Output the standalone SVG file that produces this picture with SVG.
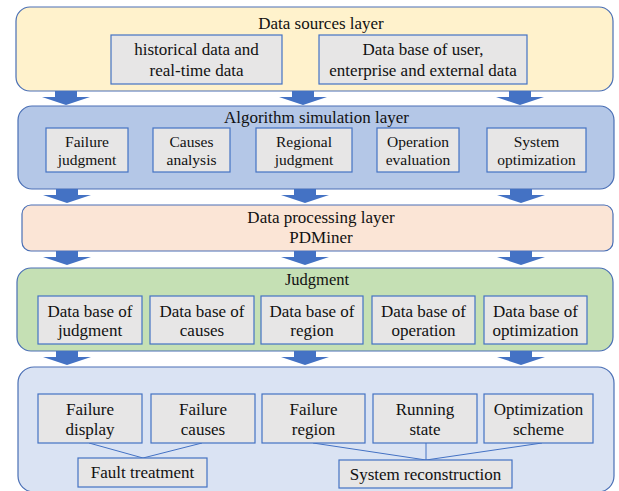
<svg xmlns="http://www.w3.org/2000/svg" width="619" height="491" viewBox="0 0 619 491" font-family="'Liberation Serif', 'Times New Roman', serif">
  <defs>
    <style>
      .layer { stroke: #4a6fb5; stroke-width: 1.2; }
      .box { fill: #e7e6e6; stroke: #4472c4; stroke-width: 1.2; }
      text { font-family: 'Liberation Serif', 'Times New Roman', serif; fill: #111; text-anchor: middle; }
      .t17 { font-size: 17px; }
      .t15 { font-size: 15.5px; }
      .arrow { fill: #4472c4; }
      .link { stroke: #4472c4; stroke-width: 1; fill: none; }
    </style>
    <path id="blk" d="M -11 0 H 11 V 6 H 24 L 0 14 L -24 6 H -11 Z"/>
  </defs>
  <rect width="619" height="491" fill="#ffffff"/>

  <!-- Data sources layer -->
  <g id="layer-sources">
    <rect class="layer" x="16" y="7" width="597" height="84" rx="14" fill="#fff2cc"/>
    <text class="t17" x="321" y="29">Data sources layer</text>
    <g id="historical-data">
      <rect class="box" x="111" y="35" width="171" height="49"/>
      <text class="t17" x="196.5" y="55">historical data and</text>
      <text class="t17" x="196.5" y="76">real-time data</text>
    </g>
    <g id="user-enterprise-data">
      <rect class="box" x="319" y="35" width="208" height="49"/>
      <text class="t17" x="423" y="55">Data base of user,</text>
      <text class="t17" x="423" y="76">enterprise and external data</text>
    </g>
  </g>

  <!-- Algorithm simulation layer -->
  <g id="layer-algorithm">
    <rect class="layer" x="18" y="106" width="596" height="83" rx="14" fill="#b4c7e7"/>
    <text class="t17" x="316.5" y="123">Algorithm simulation layer</text>
    <g id="failure-judgment">
      <rect class="box" x="46" y="128" width="82" height="44"/>
      <text class="t15" x="87" y="147">Failure</text>
      <text class="t15" x="87" y="165">judgment</text>
    </g>
    <g id="causes-analysis">
      <rect class="box" x="153" y="128" width="77" height="44"/>
      <text class="t15" x="191.5" y="147">Causes</text>
      <text class="t15" x="191.5" y="165">analysis</text>
    </g>
    <g id="regional-judgment">
      <rect class="box" x="256" y="128" width="96" height="44"/>
      <text class="t15" x="304" y="147">Regional</text>
      <text class="t15" x="304" y="165">judgment</text>
    </g>
    <g id="operation-evaluation">
      <rect class="box" x="377" y="128" width="82" height="44"/>
      <text class="t15" x="418" y="147">Operation</text>
      <text class="t15" x="418" y="165">evaluation</text>
    </g>
    <g id="system-optimization">
      <rect class="box" x="487" y="128" width="99" height="44"/>
      <text class="t15" x="536.5" y="147">System</text>
      <text class="t15" x="536.5" y="165">optimization</text>
    </g>
  </g>

  <!-- Data processing layer -->
  <g id="layer-processing">
    <rect class="layer" x="22" y="205" width="591" height="46" rx="9" fill="#fbe5d6"/>
    <text class="t17" x="321" y="223">Data processing layer</text>
    <text class="t17" x="321" y="243">PDMiner</text>
  </g>

  <!-- Judgment layer -->
  <g id="layer-judgment">
    <rect class="layer" x="17" y="268" width="596" height="83" rx="14" fill="#c5e0b4"/>
    <text font-size="16.5" x="317" y="285">Judgment</text>
    <g id="db-judgment">
      <rect class="box" x="38" y="296" width="104" height="48"/>
      <text class="t17" x="90" y="317">Data base of</text>
      <text class="t17" x="90" y="336">judgment</text>
    </g>
    <g id="db-causes">
      <rect class="box" x="150" y="296" width="104" height="48"/>
      <text class="t17" x="202" y="317">Data base of</text>
      <text class="t17" x="202" y="336">causes</text>
    </g>
    <g id="db-region">
      <rect class="box" x="261" y="296" width="102" height="48"/>
      <text class="t17" x="312" y="317">Data base of</text>
      <text class="t17" x="312" y="336">region</text>
    </g>
    <g id="db-operation">
      <rect class="box" x="372" y="296" width="103" height="48"/>
      <text class="t17" x="423.5" y="317">Data base of</text>
      <text class="t17" x="423.5" y="336">operation</text>
    </g>
    <g id="db-optimization">
      <rect class="box" x="484" y="296" width="103" height="48"/>
      <text class="t17" x="535.5" y="317">Data base of</text>
      <text class="t17" x="535.5" y="336">optimization</text>
    </g>
  </g>

  <!-- Application layer -->
  <g id="layer-application">
    <rect class="layer" x="18" y="367" width="596" height="125" rx="16" fill="#dae3f3"/>
  </g>

  <!-- Block arrows between layers and tree links -->
  <g id="connectors">
    <use href="#blk" class="arrow" x="66" y="91"/>
    <use href="#blk" class="arrow" x="303" y="91"/>
    <use href="#blk" class="arrow" x="520" y="91"/>
    <use href="#blk" class="arrow" x="67" y="189"/>
    <use href="#blk" class="arrow" x="305" y="189"/>
    <use href="#blk" class="arrow" x="521" y="189"/>
    <use href="#blk" class="arrow" x="67" y="251"/>
    <use href="#blk" class="arrow" x="305" y="251"/>
    <use href="#blk" class="arrow" x="521" y="251"/>
    <use href="#blk" class="arrow" x="67" y="351"/>
    <use href="#blk" class="arrow" x="305" y="351"/>
    <use href="#blk" class="arrow" x="521" y="351"/>

    <path class="link" d="M 89 443 L 143 458 L 202 443"/>
    <path class="link" d="M 313 443 L 426 460 L 542 443 M 426 443 V 460"/>
  </g>

  <g id="failure-display">
    <rect class="box" x="38" y="394" width="104" height="49"/>
    <text class="t17" x="90" y="415">Failure</text>
    <text class="t17" x="90" y="435">display</text>
  </g>
  <g id="failure-causes">
    <rect class="box" x="151" y="394" width="104" height="49"/>
    <text class="t17" x="203" y="415">Failure</text>
    <text class="t17" x="203" y="435">causes</text>
  </g>
  <g id="failure-region">
    <rect class="box" x="262" y="394" width="103" height="49"/>
    <text class="t17" x="313.5" y="415">Failure</text>
    <text class="t17" x="313.5" y="435">region</text>
  </g>
  <g id="running-state">
    <rect class="box" x="373" y="394" width="104" height="49"/>
    <text class="t17" x="425" y="415">Running</text>
    <text class="t17" x="425" y="435">state</text>
  </g>
  <g id="optimization-scheme">
    <rect class="box" x="484" y="394" width="109" height="49"/>
    <text class="t17" x="538.5" y="415">Optimization</text>
    <text class="t17" x="538.5" y="435">scheme</text>
  </g>
  <g id="fault-treatment">
    <rect class="box" x="78" y="458" width="129" height="29"/>
    <text class="t17" x="142.5" y="478">Fault treatment</text>
  </g>
  <g id="system-reconstruction">
    <rect class="box" x="339" y="460" width="173" height="28"/>
    <text class="t17" x="425.5" y="480">System reconstruction</text>
  </g>
</svg>
